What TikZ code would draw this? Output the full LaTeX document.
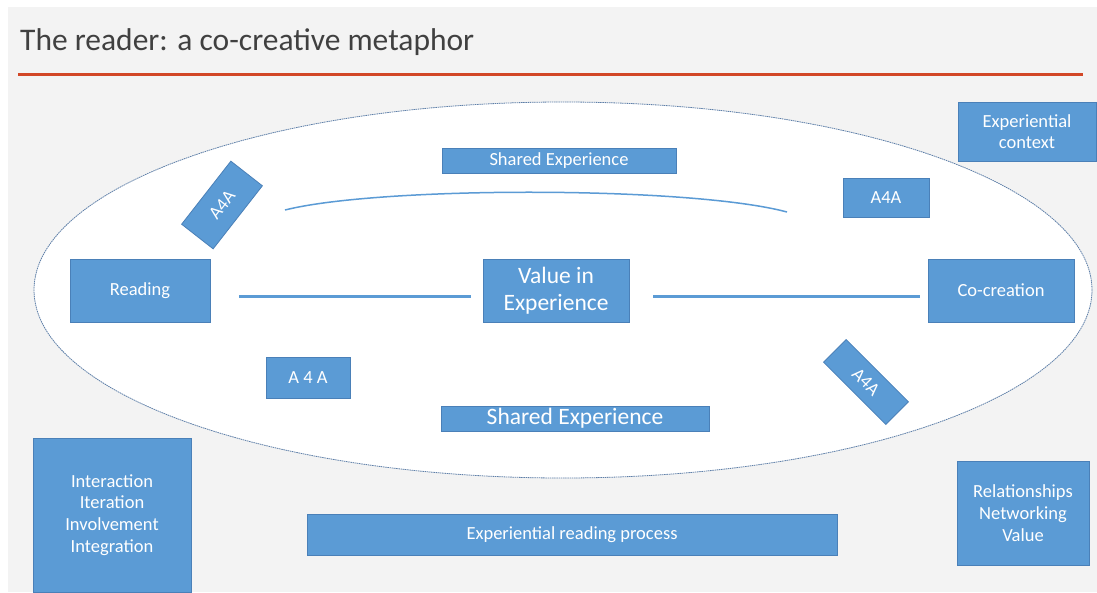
\documentclass[tikz,border=0pt]{standalone}
\usepackage{fontspec}
\setmainfont{Carlito}
\usepackage{tikz}

\definecolor{bggrey}{HTML}{F3F3F3}
\definecolor{titlegrey}{HTML}{404040}
\definecolor{rulered}{HTML}{D24726}
\definecolor{boxblue}{HTML}{5B9BD5}
\definecolor{boxline}{HTML}{4A80B8}
\definecolor{rimblue}{HTML}{5E7FA8}

\tikzset{
    box/.style={draw=boxline, line width=0.8pt, fill=boxblue, text=white, inner sep=0pt, align=center, font=\fontsize{18.5}{21.7}\selectfont},
    link/.style={draw=boxblue, line width=3pt}
}

\begin{document}
\begin{tikzpicture}[x=1pt, y=-1pt]
    		\useasboundingbox (0,0) rectangle (1097,592);
    		\fill[bggrey] (8,7) rectangle (1097,592);
    		\node[anchor=base west, text=titlegrey, inner sep=0pt, font=\fontsize{31.5}{36}\selectfont] (title) at (20,50) {The reader: a co-creative metaphor};
    		\draw[rulered, line width=3pt] (18,74) -- (1083,74);
    		\filldraw[fill=white, draw=rimblue, line width=0.8pt, dash pattern=on 1.5pt off 0.7pt] (563,290) ellipse (529 and 188);
    		\draw[boxblue, line width=1.5pt] (285,210) .. controls (380,186) and (690,186) .. (787,212);
    		\node[box, minimum width=234, minimum height=25] (sharedtop) at (559,160.5) {Shared Experience};
    		\node[box, minimum width=80, minimum height=40, rotate=52] (afourA) at (222,205) {A4A};
    		\node[box, minimum width=86, minimum height=39] (afourB) at (886,197.5) {A4A};
    		\node[box, minimum width=138, minimum height=59] (context) at (1027,131.5) {Experiential\\context};
    		\node[box, minimum width=140, minimum height=63] (reading) at (140,290.5) {Reading};
    		\node[box, minimum width=146, minimum height=63, font=\fontsize{23.5}{27}\selectfont] (value) at (556,290.5) {Value in\\Experience};
    		\node[box, minimum width=146, minimum height=63] (cocreation) at (1001,290.5) {Co-creation};
    		\node[box, minimum width=84, minimum height=41] (afourC) at (308,377.5) {A 4 A};
    		\node[box, minimum width=88, minimum height=32, rotate=-45] (afourD) at (866,382) {A4A};
    		\node[box, minimum width=268, minimum height=25, font=\fontsize{23.5}{27}\selectfont] (sharedbot) at (575,418.5) {Shared Experience};
    		\node[box, minimum width=158, minimum height=154] (interaction) at (112,515) {Interaction\\Iteration\\Involvement\\Integration};
    		\node[box, minimum width=530, minimum height=41] (process) at (572,534.5) {Experiential reading process};
    		\node[box, minimum width=132, minimum height=104] (relations) at (1023,513) {Relationships\\Networking\\Value};
    		\draw[link, shorten <=29pt, shorten >=12pt] ([yshift=-5.5pt]reading.east) -- ([yshift=-5.5pt]value.west);
    		\draw[link, shorten <=24pt, shorten >=8pt] ([yshift=-5.5pt]value.east) -- ([yshift=-5.5pt]cocreation.west);
    	\end{tikzpicture}
\end{document}
